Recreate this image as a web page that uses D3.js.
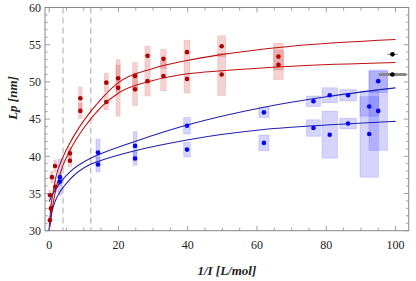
<!DOCTYPE html>
<html><head><meta charset="utf-8">
<script src="https://cdn.jsdelivr.net/npm/d3@7"></script>
<style>body{margin:0;background:#fff}svg{display:block}</style>
</head><body><svg id="c" width="416" height="281"></svg>
<script>
// ---- data ----
const redX  = [0.2, 0.5, 0.2, 0.8, 1.8, 1.7, 6.0, 6.0, 9.0, 9.0, 16.5, 16.5, 19.9, 19.9, 24.8, 24.8, 28.4, 28.4, 33.0, 33.0, 39.8, 39.8, 49.8, 49.8, 66.2, 66.2];
const redY  = [31.4, 33.0, 34.8, 37.2, 35.9, 38.7, 40.4, 39.4, 47.8, 46.1, 49.9, 47.3, 50.5, 49.2, 50.8, 49.0, 53.5, 50.1, 53.1, 50.8, 54.0, 50.4, 54.8, 51.0, 53.4, 52.3];
const redDx = [0.3, 0.3, 0.3, 0.35, 0.35, 0.35, 0.45, 0.45, 0.5, 0.5, 0.6, 0.6, 0.6, 0.6, 0.7, 0.7, 0.77, 0.77, 0.8, 0.8, 0.87, 0.87, 1.15, 1.15, 1.4, 1.4];
const redDy = [0.5, 0.6, 0.6, 0.8, 0.7, 0.8, 0.8, 0.8, 1.5, 1.0, 1.25, 1.05, 1.75, 3.8, 1.8, 2.2, 1.3, 2.0, 1.3, 2.0, 1.6, 1.9, 1.4, 2.8, 1.8, 2.0];

const blueX  = [3.1, 3.1, 14.1, 14.1, 24.8, 24.8, 39.8, 39.8, 62.0, 62.0, 76.3, 76.3, 81.0, 81.0, 86.3, 86.3, 92.4, 92.4, 95.0, 95.0];
const blueY  = [37.2, 36.6, 40.5, 38.9, 41.4, 39.7, 44.1, 40.9, 45.9, 41.8, 47.4, 43.8, 48.2, 42.9, 48.2, 44.4, 46.7, 43.0, 50.1, 46.1];
const blueDx = [0.48, 0.48, 0.58, 0.58, 0.53, 0.53, 0.96, 0.96, 1.45, 1.45, 2.0, 2.0, 2.2, 2.2, 2.4, 2.4, 2.65, 2.65, 2.65, 2.65];
const blueDy = [2.4, 0.5, 1.8, 1.0, 1.9, 0.9, 1.1, 0.95, 0.7, 1.05, 0.7, 1.1, 1.0, 3.15, 0.75, 0.7, 1.3, 5.8, 1.5, 5.3];

const blackX  = [99.1, 99.1];
const blackY  = [53.7, 51.0];
const blackDx = [1.5, 4.0];

const redUpperX = [0, 0.5, 1, 2, 4, 6, 10, 15, 20, 30, 40, 50, 70, 100];
const redUpperY = [30.0, 33.2, 34.8, 37.3, 39.9, 41.8, 44.8, 47.7, 49.9, 51.8, 52.9, 53.7, 54.8, 55.7];
const redLowerX = [0, 0.5, 1, 2, 4, 6, 10, 15, 20, 30, 40, 50, 70, 100];
const redLowerY = [30.0, 31.9, 33.3, 35.7, 38.8, 40.8, 43.8, 46.6, 48.5, 50.2, 51.1, 51.5, 52.1, 52.6];
const blueUpperX = [0, 1, 3.1, 6, 11.8, 14.7, 24.8, 39.8, 62, 80, 100];
const blueUpperY = [33.9, 34.9, 36.4, 37.9, 39.7, 40.3, 42.0, 44.2, 46.6, 48.0, 49.2];
const blueLowerX = [0, 0.7, 1.7, 3.1, 6, 11.8, 14.7, 24.8, 39.8, 62, 80, 100];
const blueLowerY = [30.0, 32.3, 33.9, 35.2, 36.9, 38.9, 39.4, 40.75, 42.2, 43.6, 44.2, 44.7];

const dashedX = [4, 12];
const xTicks = [0, 20, 40, 60, 80, 100];
const yTicks = [30, 35, 40, 45, 50, 55, 60];

// ---- layout ----
const L = 45, R = 408.7, T = 7.5, B = 230.7;
const svg = d3.select("#c");
const x = d3.scaleLinear().domain([-1.2, 103.8]).range([L, R]);
const y = d3.scaleLinear().domain([30, 60]).range([B, T]);

svg.append("defs").append("clipPath").attr("id","clip")
  .append("rect").attr("x",L).attr("y",T).attr("width",R-L).attr("height",B-T);
const g = svg.append("g").attr("clip-path","url(#clip)");

// dashed lines
g.selectAll(".dash").data(dashedX).join("line")
  .attr("x1",d=>x(d)).attr("x2",d=>x(d)).attr("y1",T).attr("y2",B)
  .attr("stroke","#bbb").attr("stroke-width",1.3).attr("stroke-dasharray","6,4");

// error rectangles
function rects(xs, ys, dxs, dys, fill, stroke){
  g.append("g").selectAll("rect").data(xs.map((d,i)=>i)).join("rect")
    .attr("x",i=>x(xs[i]-dxs[i])).attr("width",i=>x(xs[i]+dxs[i])-x(xs[i]-dxs[i]))
    .attr("y",i=>y(ys[i]+dys[i])).attr("height",i=>y(ys[i]-dys[i])-y(ys[i]+dys[i]))
    .attr("fill",fill).attr("stroke",stroke).attr("stroke-width",0.8);
}
rects(redX, redY, redDx, redDy, "rgba(200,30,30,0.2)", "rgba(200,30,30,0.15)");
rects(blueX, blueY, blueDx, blueDy, "rgba(40,40,255,0.2)", "rgba(40,40,255,0.2)");

// curves
const line = d3.line().x(d=>x(d[0])).y(d=>y(d[1])).curve(d3.curveMonotoneX);
function curve(xs, ys, color){
  g.append("path").datum(xs.map((d,i)=>[d, ys[i]])).attr("d",line)
   .attr("fill","none").attr("stroke",color).attr("stroke-width",1.1);
}
curve(redUpperX, redUpperY, "#c01010");
curve(redLowerX, redLowerY, "#c01010");
curve(blueUpperX, blueUpperY, "#2020b0");
curve(blueLowerX, blueLowerY, "#2020b0");

// points
g.append("g").selectAll("circle").data(redX.map((d,i)=>i)).join("circle")
  .attr("cx",i=>x(redX[i])).attr("cy",i=>y(redY[i])).attr("r",2.3).attr("fill","#b00000");
g.append("g").selectAll("circle").data(blueX.map((d,i)=>i)).join("circle")
  .attr("cx",i=>x(blueX[i])).attr("cy",i=>y(blueY[i])).attr("r",2.3).attr("fill","#0000ff");

// black points with horizontal errors
g.append("line").attr("x1",x(blackX[0]-blackDx[0])).attr("x2",x(blackX[0]+blackDx[0]))
  .attr("y1",y(blackY[0])).attr("y2",y(blackY[0])).attr("stroke","#999").attr("stroke-width",1.2);
g.append("line").attr("x1",x(blackX[1]-blackDx[1])).attr("x2",x(blackX[1]+blackDx[1]))
  .attr("y1",y(blackY[1])).attr("y2",y(blackY[1])).attr("stroke","#888").attr("stroke-width",3);
g.append("g").selectAll("circle").data(blackX.map((d,i)=>i)).join("circle")
  .attr("cx",i=>x(blackX[i])).attr("cy",i=>y(blackY[i])).attr("r",2.3).attr("fill","#000");

// frame
const fc = "#888";
svg.append("rect").attr("x",L).attr("y",T).attr("width",R-L).attr("height",B-T)
  .attr("fill","none").attr("stroke",fc).attr("stroke-width",1);

const xMinor = d3.range(0, 101, 5).filter(v=>!xTicks.includes(v));
const yMinor = d3.range(30, 61, 1).filter(v=>!yTicks.includes(v));
const tk = svg.append("g").attr("stroke",fc).attr("stroke-width",0.8);
function xt(vals, len){
  vals.forEach(v=>{
    tk.append("line").attr("x1",x(v)).attr("x2",x(v)).attr("y1",B).attr("y2",B-len);
    tk.append("line").attr("x1",x(v)).attr("x2",x(v)).attr("y1",T).attr("y2",T+len);
  });
}
function yt(vals, len){
  vals.forEach(v=>{
    tk.append("line").attr("y1",y(v)).attr("y2",y(v)).attr("x1",L).attr("x2",L+len);
    tk.append("line").attr("y1",y(v)).attr("y2",y(v)).attr("x1",R).attr("x2",R-len);
  });
}
xt(xTicks, 5); xt(xMinor, 3); yt(yTicks, 5); yt(yMinor, 2.6);

const font = "'Liberation Serif', 'DejaVu Serif', serif";
svg.append("g").selectAll("text").data(xTicks).join("text")
  .attr("x",d=>x(d)).attr("y",248.5).attr("text-anchor","middle")
  .attr("font-family",font).attr("font-size",12).attr("fill","#222").text(d=>d);
svg.append("g").selectAll("text").data(yTicks).join("text")
  .attr("x",41).attr("y",d=>y(d)+4.2).attr("text-anchor","end")
  .attr("font-family",font).attr("font-size",12).attr("fill","#222").text(d=>d);

svg.append("text").attr("x",(L+R)/2).attr("y",275).attr("text-anchor","middle")
  .attr("font-family",font).attr("font-size",13).attr("font-weight","bold").attr("font-style","italic")
  .attr("fill","#222").text("1/I [L/mol]");
svg.append("text").attr("transform","translate(17,98) rotate(-90)").attr("text-anchor","middle")
  .attr("font-family",font).attr("font-size",13).attr("font-weight","bold").attr("font-style","italic")
  .attr("fill","#222").text("Lp [nm]");
</script></body></html>
